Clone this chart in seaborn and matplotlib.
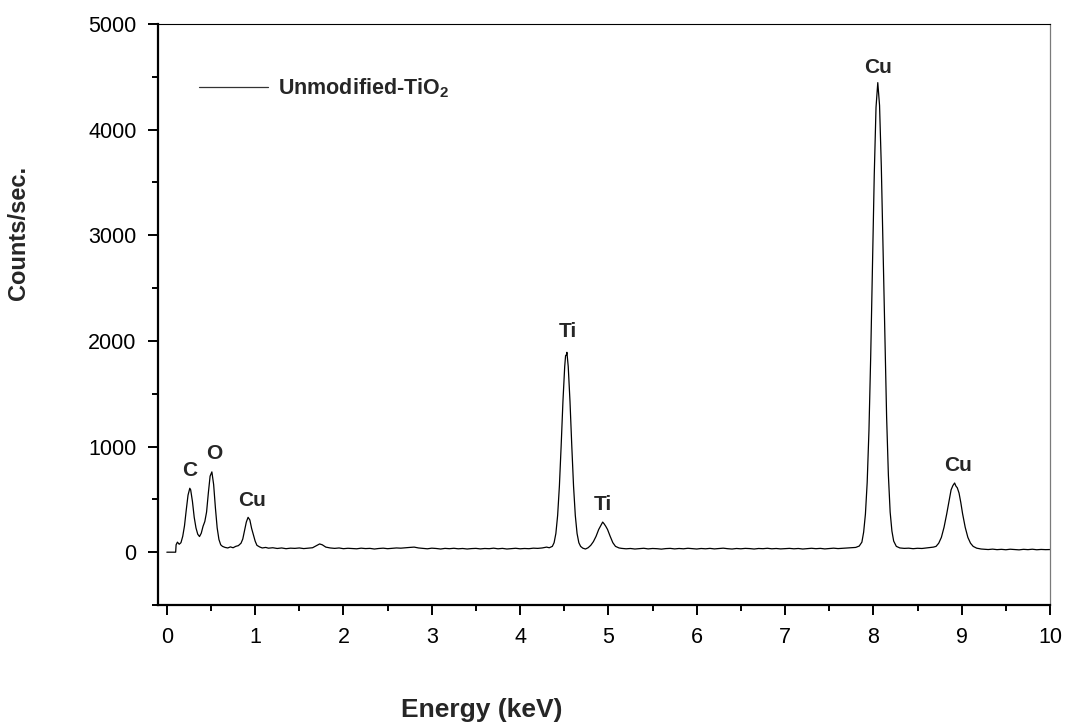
import matplotlib
matplotlib.use("Agg")
import matplotlib.pyplot as plt
import seaborn as sns
import pandas as pd
from matplotlib.ticker import MultipleLocator, FixedLocator

# ---------------- data ----------------
energy_kev = [
    0.00, 0.10, 0.105, 0.12, 0.14, 0.16, 0.18, 0.20, 0.22, 0.24, 0.26, 0.27, 0.29, 0.31, 0.33,
    0.35, 0.37, 0.39, 0.41, 0.43, 0.45, 0.47, 0.49, 0.51, 0.53, 0.55, 0.57, 0.59, 0.61, 0.63,
    0.66, 0.69, 0.72, 0.75, 0.78, 0.81, 0.84, 0.86, 0.88, 0.90, 0.92, 0.94, 0.96, 0.98, 1.00,
    1.02, 1.05, 1.08, 1.12,
    1.15, 1.20, 1.25, 1.30, 1.35, 1.40, 1.45, 1.50, 1.55, 1.60, 1.65, 1.70, 1.73, 1.76, 1.80,
    1.85, 1.90, 1.95, 2.00, 2.05, 2.10, 2.15, 2.20, 2.25, 2.30, 2.35, 2.40, 2.45, 2.50, 2.55,
    2.60, 2.65, 2.70, 2.75, 2.80, 2.85, 2.90, 2.95, 3.00, 3.05, 3.10, 3.15, 3.20, 3.25, 3.30,
    3.35, 3.40, 3.45, 3.50, 3.55, 3.60, 3.65, 3.70, 3.75, 3.80, 3.85, 3.90, 3.95, 4.00, 4.05,
    4.10, 4.15, 4.20, 4.25, 4.30,
    4.33, 4.365, 4.385, 4.405, 4.425, 4.445, 4.465, 4.485, 4.505, 4.515, 4.525, 4.53, 4.545,
    4.565, 4.585, 4.605, 4.625, 4.645, 4.665, 4.685, 4.71, 4.74, 4.77,
    4.80, 4.83, 4.86, 4.89, 4.92, 4.935, 4.95, 4.97, 4.99, 5.02, 5.05, 5.08, 5.12,
    5.15, 5.20, 5.25, 5.30, 5.35, 5.40, 5.45, 5.50, 5.55, 5.60, 5.65, 5.70, 5.75, 5.80, 5.85,
    5.90, 5.95, 6.00, 6.05, 6.10, 6.15, 6.20, 6.25, 6.30, 6.35, 6.40, 6.45, 6.50, 6.55, 6.60,
    6.65, 6.70, 6.75, 6.80, 6.85, 6.90, 6.95, 7.00, 7.05, 7.10, 7.15, 7.20, 7.25, 7.30, 7.35,
    7.40, 7.45, 7.50, 7.55, 7.60, 7.65, 7.70, 7.75, 7.80,
    7.84, 7.87, 7.89, 7.91, 7.93, 7.95, 7.97, 7.99, 8.01, 8.03, 8.05, 8.07, 8.09, 8.11, 8.13,
    8.15, 8.17, 8.19, 8.21, 8.23, 8.26, 8.30, 8.35, 8.40, 8.45, 8.50, 8.55, 8.60, 8.65, 8.68,
    8.71, 8.74, 8.77, 8.80, 8.83, 8.86, 8.88, 8.90, 8.92, 8.935, 8.95, 8.97, 8.99, 9.01, 9.04,
    9.07, 9.10, 9.13, 9.17, 9.22,
    9.25, 9.30, 9.35, 9.40, 9.45, 9.50, 9.55, 9.60, 9.65, 9.70, 9.75, 9.80, 9.85, 9.90, 9.95,
    10.00,
]
counts_per_sec = [
    0, 0, 70, 95, 75, 90, 150, 250, 400, 540, 605, 590, 480, 330, 230,
    170, 148, 180, 245, 290, 380, 560, 720, 760, 640, 420, 230, 120, 70, 55,
    45, 40, 50, 42, 55, 62, 85, 125, 205, 285, 330, 305, 225, 165, 105,
    65, 50, 40, 45,
    38, 42, 35, 40, 33, 38, 36, 40, 34, 38, 42, 65, 78, 70, 48,
    40, 36, 40, 33, 37, 35, 32, 38, 34, 36, 30, 35, 38, 33, 36,
    40, 38, 42, 45, 48, 40, 36, 32, 38, 35, 30, 36, 33, 37, 32,
    35, 30, 34, 36, 31, 35, 33, 38, 32, 36, 30, 34, 37, 32, 35,
    33, 38, 36, 40, 48,
    42, 55, 90, 177, 348, 627, 1010, 1426, 1757, 1860, 1870, 1892, 1757,
    1426, 1010, 627, 348, 177, 90, 55, 38, 30, 42,
    65, 100, 150, 215, 262, 285, 270, 245, 215, 150, 90, 55, 40,
    36, 32, 35, 30, 34, 37, 31, 35, 33, 29, 34, 36, 31, 35, 32,
    37, 33, 30, 35, 32, 36, 31, 34, 38, 33, 30, 35, 32, 36, 34,
    30, 35, 33, 37, 32, 35, 31, 34, 36, 32, 35, 30, 34, 37, 33,
    36, 31, 35, 38, 34, 37, 40, 42, 45,
    58, 95, 190, 360, 660, 1150, 1860, 2710, 3570, 4210, 4445, 4230, 3650, 2850, 2000,
    1280, 730, 380, 200, 105, 55, 40, 36, 38, 33, 37, 35, 40, 44, 48,
    55, 85, 140, 235, 360, 500, 590, 630, 655, 625, 610, 560, 470, 365, 235,
    140, 85, 55, 38, 30,
    28, 25, 29, 24, 27, 23, 28, 25, 22, 27, 24, 28, 23, 26, 24,
    25,
]
series_name = r"Unmodified-TiO$_{\mathbf{2}}$"

peak_labels = ["C", "O", "Cu", "Ti", "Ti", "Cu", "Cu"]
peak_label_energy = [0.26, 0.54, 0.96, 4.54, 4.94, 8.05, 8.96]
peak_label_counts = [776, 930, 485, 2085, 455, 4585, 825]

x_ticks = [0, 1, 2, 3, 4, 5, 6, 7, 8, 9, 10]
y_ticks = [0, 1000, 2000, 3000, 4000, 5000]

df = pd.DataFrame({"Energy": energy_kev, "Counts": counts_per_sec})

# ---------------- style ----------------
sns.set_theme(style="ticks")
plt.rcParams["font.family"] = ["Liberation Sans", "DejaVu Sans"]
plt.rcParams["mathtext.fontset"] = "custom"
plt.rcParams["mathtext.rm"] = "Liberation Sans"
plt.rcParams["mathtext.bf"] = "Liberation Sans:bold"

fig = plt.figure(figsize=(10.66, 7.24), dpi=100)
ax = fig.add_axes([158 / 1066, 119 / 724, 892 / 1066, 581 / 724])

sns.lineplot(data=df, x="Energy", y="Counts", ax=ax, color="black", linewidth=0.9,
             estimator=None, sort=False, label=series_name)

ax.set_xlim(-0.1, 10)
ax.set_ylim(-500, 5000)

ax.xaxis.set_major_locator(FixedLocator(x_ticks))
ax.xaxis.set_minor_locator(MultipleLocator(0.5))
ax.yaxis.set_major_locator(FixedLocator(y_ticks))
ax.yaxis.set_minor_locator(FixedLocator([-500, 500, 1500, 2500, 3500, 4500]))
ax.set_xticklabels([str(t) for t in x_ticks])
ax.set_yticklabels([str(t) for t in y_ticks])

ax.tick_params(axis="both", which="major", direction="out", length=7.5, width=1.4,
               labelsize=15.5, colors="black", pad=8)
ax.tick_params(axis="both", which="minor", direction="out", length=4.5, width=1.4,
               colors="black")

for side in ["left", "bottom"]:
    ax.spines[side].set_linewidth(1.6)
    ax.spines[side].set_color("black")
ax.spines["top"].set_linewidth(0.8)
ax.spines["top"].set_color("black")
ax.spines["right"].set_linewidth(0.9)
ax.spines["right"].set_color("#7a7a7a")

ax.set_xlabel("Energy (keV)", fontsize=19, fontweight="bold")
ax.set_ylabel("Counts/sec.", fontsize=17, fontweight="bold")
ax.xaxis.set_label_coords(0.363, -0.16)
ax.yaxis.set_label_coords(-0.143, 0.64)

for lab, e, c in zip(peak_labels, peak_label_energy, peak_label_counts):
    ax.text(e, c, lab, ha="center", va="center", fontsize=15, fontweight="bold")

leg = ax.legend(loc="center left", bbox_to_anchor=(0.046, 0.89), frameon=False,
                handlelength=3.2, handletextpad=0.45, borderpad=0, borderaxespad=0,
                prop={"size": 15.5, "weight": "bold"})
for h in leg.get_lines():
    h.set_linewidth(0.9)
    h.set_color("#333333")

ax.grid(False)
fig.savefig("out.png", dpi=100)
